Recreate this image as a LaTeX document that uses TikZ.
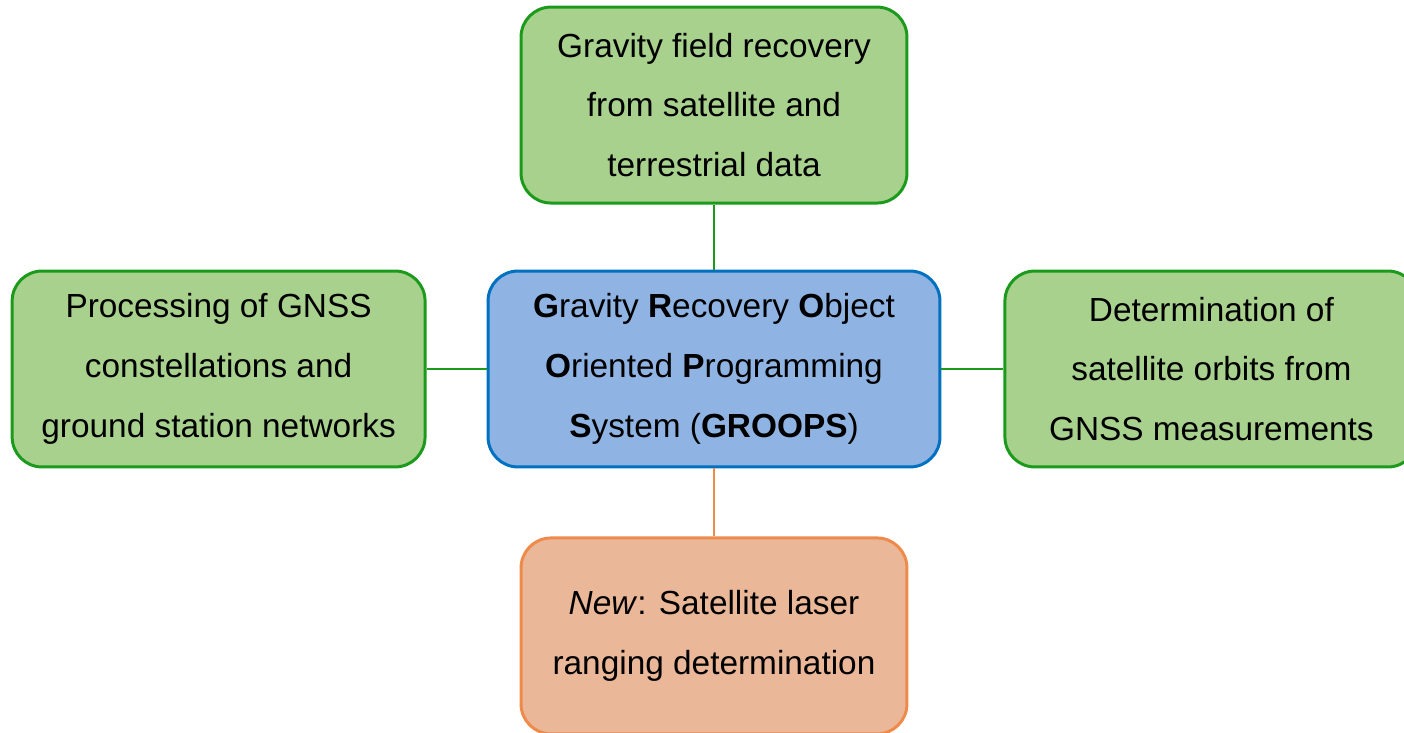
\documentclass[tikz,border=0pt]{standalone}
\usepackage{fontspec}
\setmainfont{Liberation Sans}
\usetikzlibrary{positioning}

\definecolor{leafgreen}{HTML}{A9D18E}
\definecolor{edgegreen}{HTML}{1C9A1C}
\definecolor{coreblue}{HTML}{8FB4E3}
\definecolor{edgeblue}{HTML}{0070C0}
\definecolor{peach}{HTML}{EAB898}
\definecolor{edgeorange}{HTML}{EE8A4A}

\begin{document}
\begin{tikzpicture}[
        x=0.02cm, y=-0.02cm, % one unit = one pixel of the sketch
        box/.style={line width=1.7pt, rounded corners=0.6cm, align=center,
            minimum height=3.92cm, font=\fontsize{19}{34}\selectfont}, % common box
        topic/.style={box, draw=edgegreen, fill=leafgreen, minimum width=7.72cm},
        core/.style={box, draw=edgeblue, fill=coreblue, minimum width=9.04cm},
        novel/.style={box, draw=edgeorange, fill=peach, minimum width=7.72cm},
        link/.style={line width=1.1pt},
    ]
    \useasboundingbox (0,0) rectangle (1404,733);

    \node[core] (groops) at (714,369)
        {\textbf{G}ravity \textbf{R}ecovery \textbf{O}bject\\
         \textbf{O}riented \textbf{P}rogramming\\
         \textbf{S}ystem (\textbf{GROOPS})};

    \node[topic, above=1.3cm of groops] (gravity)
        {Gravity field recovery\\from satellite and\\terrestrial data};
    \node[topic, left=1.2cm of groops, minimum width=8.26cm] (gnss)
        {Processing of GNSS\\constellations and\\ground station networks};
    \node[topic, right=1.24cm of groops, minimum width=8.26cm] (orbit)
        {Determination of\\satellite orbits from\\GNSS measurements};
    \node[novel, below=1.36cm of groops] (slr)
        {\textit{New}: Satellite laser\\ranging determination};

    % connectors
    \draw[link, edgegreen] (gravity) -- (groops);
    \draw[link, edgegreen] (gnss) -- (groops);
    \draw[link, edgegreen] (groops) -- (orbit);
    \draw[link, edgeorange] (groops) -- (slr);
\end{tikzpicture}
\end{document}
